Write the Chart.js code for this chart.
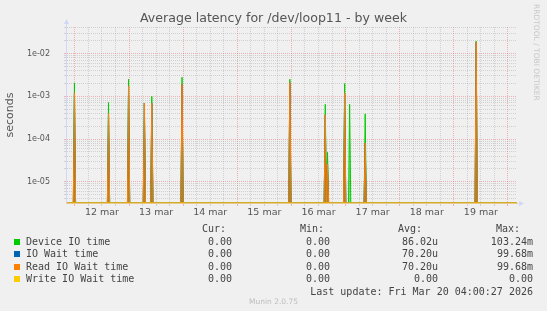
<!DOCTYPE html>
<html>
<head>
<meta charset="utf-8">
<title>Average latency for /dev/loop11 - by week</title>
<script src="https://cdn.jsdelivr.net/npm/chart.js@4.4.1/dist/chart.umd.min.js"></script>
<style>
    html, body { margin: 0; padding: 0; background: #f0f0f0; }
    body { width: 547px; height: 311px; position: relative; overflow: hidden; font-family: "DejaVu Sans", sans-serif; color: #555; }
    #chart { position: absolute; left: 0; top: 0; }
    .t { position: absolute; white-space: pre; line-height: 12px; }
    .mono { font-family: "DejaVu Sans Mono", monospace; font-size: 10px; color: #444; }
    .r { text-align: right; }
    .sq { position: absolute; width: 6px; height: 6px; }
    #title { left: 0; width: 547px; top: 12px; text-align: center; font-size: 12.6px; color: #555; }
    #rrd { left: 532px; top: 4px; writing-mode: vertical-rl; font-size: 7.5px; color: #c8c8c8; line-height: 9px; }
    #munin { left: 0; width: 547px; top: 296px; text-align: center; font-size: 7.5px; color: #bdbdbd; }
</style>
</head>
<body>
<canvas id="chart" width="547" height="311"></canvas>
<div class="t" id="title">Average latency for /dev/loop11 - by week</div>
<div class="t" id="rrd">RRDTOOL / TOBI OETIKER</div>
<div id="legend"></div>
<div class="t" id="munin">Munin 2.0.75</div>
<script>
// time axis: hours since 12 mar 00:00
var startHour = -3.5;
var endHour = 196;
var dayLabels = ['12 mar', '13 mar', '14 mar', '15 mar', '16 mar', '17 mar', '18 mar', '19 mar'];
var yTickLabels = ['1e-02', '1e-03', '1e-04', '1e-05'];
var yMin = 3.2e-6;
var yMax = 4.2e-2;

// spikes (hour, value in seconds)
var spikeHours = [-0.2, 14.9, 23.8, 30.8, 34.1, 47.5, 95.3, 111.0, 112.0, 119.6, 121.8, 128.7, 177.9];
var deviceIO   = [2.07e-3, 7.2e-4, 2.52e-3, 7.0e-4, 1.0e-3, 2.8e-3, 2.52e-3, 6.5e-4, 4.9e-5, 2.0e-3, 6.5e-4, 3.9e-4, 1.96e-2];
var ioWait     = [1.21e-3, 4.0e-4, 1.74e-3, 6.9e-4, 6.9e-4, 1.9e-3, 2.1e-3, 3.7e-4, 2.6e-5, 1.2e-3, 0, 8.1e-5, 1.86e-2];
var readIO     = [1.21e-3, 4.0e-4, 1.74e-3, 6.9e-4, 6.9e-4, 1.9e-3, 2.1e-3, 3.7e-4, 2.6e-5, 1.2e-3, 0, 8.1e-5, 1.86e-2];
var writeIO    = [0, 0, 0, 0, 0, 0, 0, 0, 0, 0, 0, 0, 0];

// legend table
var seriesNames  = ['Device IO time', 'IO Wait time', 'Read IO Wait time', 'Write IO Wait time'];
var seriesColors = ['#00cc00', '#0066b3', '#ff8000', '#ffcc00'];
var curVals = ['0.00', '0.00', '0.00', '0.00'];
var minVals = ['0.00', '0.00', '0.00', '0.00'];
var avgVals = ['86.02u', '70.20u', '70.20u', '0.00'];
var maxVals = ['103.24m', '99.68m', '99.68m', '0.00'];
var lastUpdate = 'Last update: Fri Mar 20 04:00:27 2026';

var majorColor = 'rgba(235,100,100,0.45)';
var minorColor = 'rgba(150,150,150,0.35)';

// zero can't sit on a log axis, so it is put on the bottom edge (yMin)
function buildPoints(values) {
    var pts = [{x: startHour, y: yMin}];
    for (var i = 0; i < spikeHours.length; i++) {
        var t = spikeHours[i];
        if (values[i] > 0) {
            pts.push({x: t - 0.5, y: yMin});
            pts.push({x: t, y: values[i]});
            pts.push({x: t + 0.5, y: yMin});
        }
    }
    pts.push({x: endHour, y: yMin});
    return pts;
}

function isDecade(v) {
    var l = Math.log10(v);
    return Math.abs(l - Math.round(l)) < 1e-9;
}

// legend html
var html = '';
function txt(x, y, s, right) {
    if (right) {
        html += '<div class="t mono r" style="right:' + (547 - x) + 'px;top:' + (y - 6) + 'px">' + s + '</div>';
    } else {
        html += '<div class="t mono" style="left:' + x + 'px;top:' + (y - 6) + 'px">' + s + '</div>';
    }
}
txt(226, 229, 'Cur:', true);
txt(324, 229, 'Min:', true);
txt(422, 229, 'Avg:', true);
txt(520, 229, 'Max:', true);
for (var i = 0; i < seriesNames.length; i++) {
    var y = 241.5 + i * 12.5;
    html += '<div class="sq" style="left:14px;top:' + (y - 3) + 'px;background:' + seriesColors[i] + '"></div>';
    txt(26, y, seriesNames[i], false);
    txt(232, y, curVals[i], true);
    txt(330, y, minVals[i], true);
    txt(438, y, avgVals[i], true);
    txt(533, y, maxVals[i], true);
}
txt(533, 291.5, lastUpdate, true);
document.getElementById('legend').innerHTML = html;

var axisPlugin = {
    id: 'rrdAxes',
    beforeDatasetsDraw: function(chart) {
        var a = chart.chartArea, c = chart.ctx;
        c.save();
        c.strokeStyle = '#cfd6f8';
        c.fillStyle = '#cfd6f8';
        c.lineWidth = 1;
        c.beginPath();
        c.moveTo(a.left - 0.5, a.bottom + 1);
        c.lineTo(a.left - 0.5, a.top - 4);
        c.stroke();
        c.beginPath();
        c.moveTo(a.left - 3, a.top - 3);
        c.lineTo(a.left + 2, a.top - 3);
        c.lineTo(a.left - 0.5, a.top - 8);
        c.closePath();
        c.fill();
        c.beginPath();
        c.moveTo(a.right + 2, a.bottom - 2);
        c.lineTo(a.right + 2, a.bottom + 3);
        c.lineTo(a.right + 7, a.bottom + 0.5);
        c.closePath();
        c.fill();
        c.restore();
    },
    afterDatasetsDraw: function(chart) {
        // zero values of every series run along the bottom edge
        var a = chart.chartArea, c = chart.ctx;
        c.save();
        c.strokeStyle = '#e9c88e';
        c.lineWidth = 1;
        c.beginPath();
        c.moveTo(a.left - 1, a.bottom + 0.5);
        c.lineTo(a.right + 1, a.bottom + 0.5);
        c.stroke();
        c.restore();
    }
};

function dataset(label, values, color, fillColor, order) {
    return {
        label: label,
        data: buildPoints(values),
        borderColor: color,
        backgroundColor: fillColor || color,
        borderWidth: 1,
        pointRadius: 0,
        tension: 0,
        fill: fillColor ? 'start' : false,
        order: order,
        clip: 0
    };
}

new Chart(document.getElementById('chart'), {
    type: 'line',
    data: {
        datasets: [
            dataset('Device IO time', deviceIO, '#00cc00', 'rgba(0,204,0,0.45)', 4),
            dataset('IO Wait time', ioWait, '#0066b3', null, 3),
            dataset('Read IO Wait time', readIO, '#ff8000', 'rgba(170,110,40,0.75)', 2),
            dataset('Write IO Wait time', writeIO, '#ffcc00', null, 1)
        ]
    },
    options: {
        responsive: false,
        devicePixelRatio: 1,
        animation: false,
        layout: { padding: { top: 27, right: 30, left: 0, bottom: 0 } },
        plugins: { legend: { display: false }, tooltip: { enabled: false } },
        scales: {
            x: {
                type: 'linear',
                min: startHour,
                max: endHour,
                afterBuildTicks: function(scale) {
                    var ticks = [];
                    for (var h = 0; h <= endHour; h += 6) ticks.push({value: h});
                    scale.ticks = ticks;
                },
                afterFit: function(scale) { scale.height = 108; },
                ticks: {
                    autoSkip: false,
                    maxRotation: 0,
                    padding: 1,
                    color: '#555',
                    font: { family: 'DejaVu Sans', size: 9.5 },
                    callback: function(v) {
                        if (v % 24 === 12) return dayLabels[(v - 12) / 24] || '';
                        return '';
                    }
                },
                grid: {
                    color: function(ctx) {
                        return ctx.tick && ctx.tick.value % 24 === 0 ? majorColor : minorColor;
                    },
                    tickColor: function(ctx) {
                        return ctx.tick && ctx.tick.value % 24 === 0 ? majorColor : minorColor;
                    },
                    tickLength: 3,
                    lineWidth: 1
                },
                border: { display: false, dash: [1, 1] }
            },
            y: {
                type: 'logarithmic',
                min: yMin,
                max: yMax,
                afterBuildTicks: function(scale) {
                    var ticks = [];
                    for (var e = -6; e <= -1; e++) {
                        for (var m = 1; m <= 9; m++) {
                            var v = m * Math.pow(10, e);
                            if (v >= yMin && v <= yMax) ticks.push({value: v});
                        }
                    }
                    scale.ticks = ticks;
                },
                afterFit: function(scale) { scale.width = 67; },
                title: {
                    display: true,
                    text: 'seconds',
                    color: '#555',
                    font: { family: 'DejaVu Sans', size: 11 },
                    padding: { top: 4, bottom: 0 }
                },
                ticks: {
                    autoSkip: false,
                    padding: 14,
                    color: '#555',
                    font: { family: 'DejaVu Sans', size: 8 },
                    callback: function(v) {
                        if (!isDecade(v)) return '';
                        var lbl = v.toExponential(0).replace('e-', 'e-0');
                        return yTickLabels.indexOf(lbl) >= 0 ? lbl : '';
                    }
                },
                grid: {
                    color: function(ctx) {
                        return ctx.tick && isDecade(ctx.tick.value) ? majorColor : minorColor;
                    },
                    tickColor: function(ctx) {
                        return ctx.tick && isDecade(ctx.tick.value) ? majorColor : minorColor;
                    },
                    tickLength: 3,
                    lineWidth: 1
                },
                border: { display: false, dash: [1, 1] }
            }
        }
    },
    plugins: [axisPlugin]
});
</script>
</body>
</html>
